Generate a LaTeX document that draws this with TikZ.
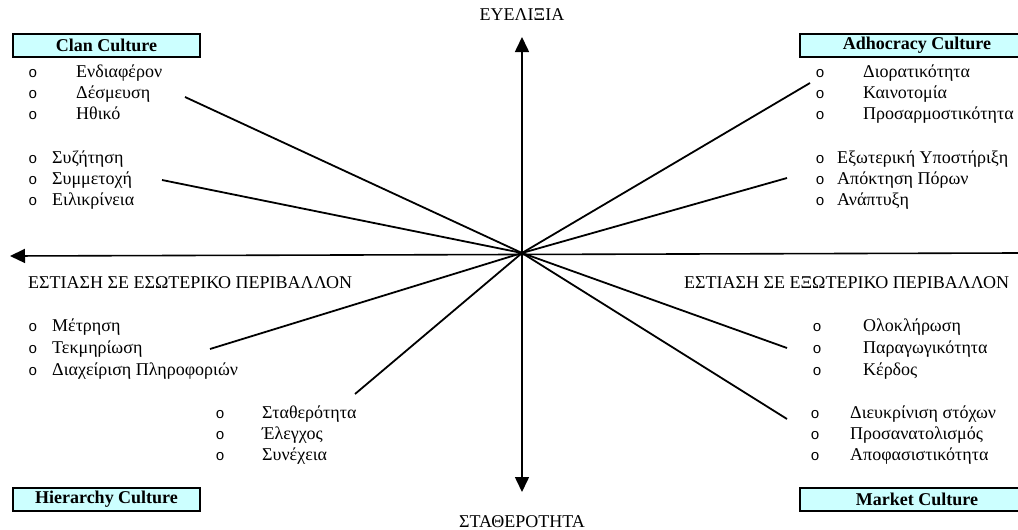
\documentclass[tikz,border=0pt]{standalone}
\usepackage{fontspec}
\setmainfont{Liberation Serif}
\setmonofont{Liberation Mono}
\usepackage{xcolor}
\definecolor{boxfill}{RGB}{204,255,255}
\usetikzlibrary{positioning, calc, arrows.meta}
\tikzstyle{Axis} = [line width=1.6pt,
-{Triangle[length=15pt, width=14pt]}]
\tikzstyle{Spoke} = [line width=1.8pt]
\tikzstyle{Culture} = [draw, line width=2pt, fill=boxfill,
minimum height=23pt, inner sep=0pt,
font=\fontsize{18}{20}\selectfont\bfseries]
\tikzstyle{Item} = [anchor=base west, inner sep=0pt,
font=\fontsize{18}{20}\selectfont]
\tikzstyle{Dot} = [anchor=base, inner sep=0pt,
font=\fontsize{15}{18}\selectfont\ttfamily]
\tikzstyle{Label} = [anchor=base, inner sep=0pt,
font=\fontsize{18}{20}\selectfont]

\begin{document}
\begin{tikzpicture}[x=1pt, y=-1pt]
        \useasboundingbox (0,0) rectangle (1018,530);
        \coordinate (c) at (522,253);

        % axes
        \node [Label] (flex) at (522,20) {ΕΥΕΛΙΞΙΑ};
        \node [Label] (stab) at (522,527) {ΣΤΑΘΕΡΟΤΗΤΑ};
        \node [Label, anchor=base west] (inner) at (28,288) {ΕΣΤΙΑΣΗ ΣΕ ΕΣΩΤΕΡΙΚΟ ΠΕΡΙΒΑΛΛΟΝ};
        \node [Label, anchor=base west] (outer) at (684,288) {ΕΣΤΙΑΣΗ ΣΕ ΕΞΩΤΕΡΙΚΟ ΠΕΡΙΒΑΛΛΟΝ};
        \coordinate (up) at (522,37);
        \coordinate (down) at (522,492);
        \coordinate (west) at (10,256);
        \coordinate (east) at (1018,253);
        \draw[Axis] (c) -- (up);
        \draw[Axis] (c) -- (down);
        \draw[Axis] (east) -- (west);

        % culture boxes
        \node [Culture, minimum width=187pt] (clan) at (106.5,45.5) {Clan Culture};
        \node [Culture, minimum width=240pt] (adhoc) at (920,45.5) {\hspace*{-6pt}Adhocracy Culture};
        \node [Culture, minimum width=187pt] (hier) at (106.5,499.5) {Hierarchy Culture};
        \node [Culture, minimum width=240pt] (market) at (920,499.5) {\hspace*{-6pt}Market Culture};

        % clan
        \node [Dot] (d1) at (33,77) {o};
        \node [Dot] (d2) at (33,98) {o};
        \node [Dot] (d3) at (33,119) {o};
        \node [Item] (interest) at (76,77) {Ενδιαφέρον};
        \node [Item] (commit) at (76,98) {Δέσμευση};
        \node [Item] (moral) at (76,119) {Ηθικό};
        \node [Dot] (d4) at (33,163) {o};
        \node [Dot] (d5) at (33,184) {o};
        \node [Dot] (d6) at (33,205) {o};
        \node [Item] (discuss) at (52,163) {Συζήτηση};
        \node [Item] (partic) at (52,184) {Συμμετοχή};
        \node [Item] (honest) at (52,205) {Ειλικρίνεια};

        % adhocracy
        \node [Dot] (d7) at (820,77) {o};
        \node [Dot] (d8) at (820,98) {o};
        \node [Dot] (d9) at (820,119) {o};
        \node [Item] (vision) at (863,77) {Διορατικότητα};
        \node [Item] (innov) at (863,98) {Καινοτομία};
        \node [Item] (adapt) at (863,119) {Προσαρμοστικότητα};
        \node [Dot] (d10) at (820,163) {o};
        \node [Dot] (d11) at (820,184) {o};
        \node [Dot] (d12) at (820,205) {o};
        \node [Item] (support) at (837,163) {Εξωτερική Υποστήριξη};
        \node [Item] (resource) at (837,184) {Απόκτηση Πόρων};
        \node [Item] (growth) at (837,205) {Ανάπτυξη};

        % hierarchy
        \node [Dot] (d13) at (33,331) {o};
        \node [Dot] (d14) at (33,353) {o};
        \node [Dot] (d15) at (33,375) {o};
        \node [Item] (measure) at (52,331) {Μέτρηση};
        \node [Item] (document) at (52,353) {Τεκμηρίωση};
        \node [Item] (infoman) at (52,375) {Διαχείριση Πληροφοριών};
        \node [Dot] (d16) at (220,418) {o};
        \node [Dot] (d17) at (220,439) {o};
        \node [Dot] (d18) at (220,460) {o};
        \node [Item] (stable) at (262,418) {Σταθερότητα};
        \node [Item] (control) at (262,439) {Έλεγχος};
        \node [Item] (contin) at (262,460) {Συνέχεια};

        % market
        \node [Dot] (d19) at (817,331) {o};
        \node [Dot] (d20) at (817,353) {o};
        \node [Dot] (d21) at (817,375) {o};
        \node [Item] (integr) at (863,331) {Ολοκλήρωση};
        \node [Item] (product) at (863,353) {Παραγωγικότητα};
        \node [Item] (profit) at (863,375) {Κέρδος};
        \node [Dot] (d22) at (815,418) {o};
        \node [Dot] (d23) at (815,439) {o};
        \node [Dot] (d24) at (815,460) {o};
        \node [Item] (goals) at (850,418) {Διευκρίνιση στόχων};
        \node [Item] (orient) at (850,439) {Προσανατολισμός};
        \node [Item] (decis) at (850,460) {Αποφασιστικότητα};

        % spokes
        \coordinate (s1) at (185,97);
        \coordinate (s2) at (162,180);
        \coordinate (s3) at (810,83);
        \coordinate (s4) at (787,178);
        \coordinate (s5) at (210,349);
        \coordinate (s6) at (355,394);
        \coordinate (s7) at (787,348);
        \coordinate (s8) at (787,419);
        \draw[Spoke] (s1) -- (c);
        \draw[Spoke] (s2) -- (c);
        \draw[Spoke] (s3) -- (c);
        \draw[Spoke] (s4) -- (c);
        \draw[Spoke] (s5) -- (c);
        \draw[Spoke] (s6) -- (c);
        \draw[Spoke] (s7) -- (c);
        \draw[Spoke] (s8) -- (c);
    \end{tikzpicture}
\end{document}
